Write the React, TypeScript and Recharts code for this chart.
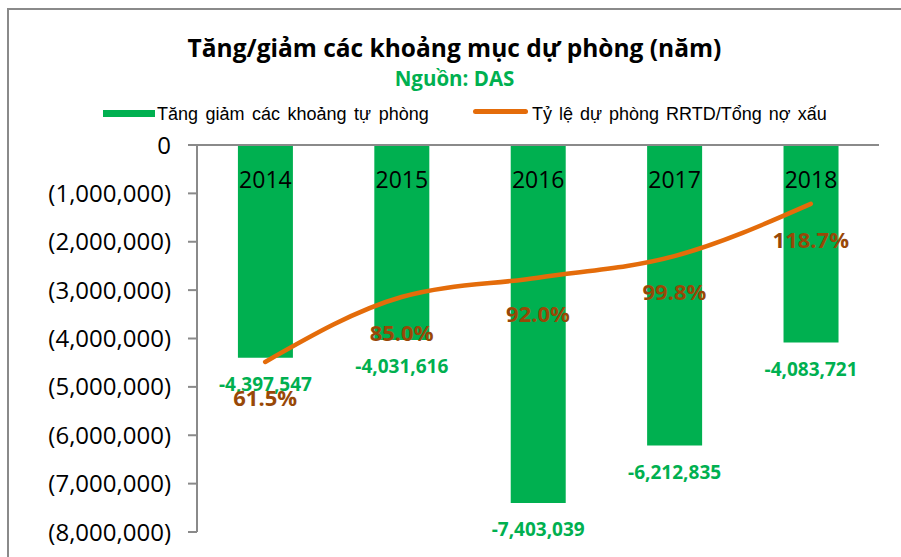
import { Bar, ComposedChart, LabelList, Line, XAxis, YAxis } from 'recharts'

const YEARS = ['2014', '2015', '2016', '2017', '2018']
const PROVISION_CHANGE = [-4397547, -4031616, -7403039, -6212835, -4083721]
const COVERAGE_RATIO = [61.5, 85.0, 92.0, 99.8, 118.7]
const LEFT_TICKS = [0, -1000000, -2000000, -3000000, -4000000, -5000000, -6000000, -7000000, -8000000]
const FRAME_TICKS = [0, 1, 2, 3, 4, 5]

const GREEN = '#00B050'
const ORANGE = '#E46C0A'
const BROWN = '#984807'
const AXIS = '#8a8a8a'
const CALIBRI = '"Open Sans", sans-serif'
const ARIAL = '"Liberation Sans", Arial, sans-serif'

const data = YEARS.map((year, i) => ({
  year,
  change: PROVISION_CHANGE[i],
  ratio: COVERAGE_RATIO[i],
}))

const fmtAxis = (v: number) =>
  v === 0 ? '0' : `(${Math.abs(v).toLocaleString('en-US')})`

function BarValueLabel(props: any) {
  const { x, y, width, height, value } = props
  const bottom = Math.max(y, y + height)
  return (
    <text
      x={x + width / 2}
      y={bottom + 26}
      textAnchor="middle"
      dominantBaseline="central"
      fill={GREEN}
      fontFamily={CALIBRI}
      fontWeight={700}
      fontSize={19}
    >
      {value.toLocaleString('en-US')}
    </text>
  )
}

// year sits just under the zero line, inside the bar
function YearLabel(props: any) {
  const { x, y, width, height, value } = props
  const top = Math.min(y, y + height)
  return (
    <text
      x={x + width / 2}
      y={top + 34}
      textAnchor="middle"
      dominantBaseline="central"
      fill="#000"
      fontFamily={CALIBRI}
      fontSize={23}
    >
      {value}
    </text>
  )
}

function RatioLabel(props: any) {
  const { x, y, value } = props
  return (
    <text
      x={x}
      y={y + 35}
      textAnchor="middle"
      dominantBaseline="central"
      fill={BROWN}
      fontFamily={CALIBRI}
      fontWeight={700}
      fontSize={22}
    >
      {value.toFixed(1)}%
    </text>
  )
}

export default function App() {
  return (
    <div
      style={{
        position: 'absolute',
        left: 0,
        top: 0,
        width: 901,
        height: 557,
        overflow: 'hidden',
        background: '#fff',
      }}
    >
      <div
        style={{
          position: 'absolute',
          left: 7,
          top: 8,
          width: 1000,
          height: 1000,
          borderTop: `2px solid ${AXIS}`,
          borderLeft: `2px solid ${AXIS}`,
        }}
      />
      <div
        style={{
          position: 'absolute',
          left: 8,
          right: 0,
          top: 35,
          textAlign: 'center',
          fontFamily: CALIBRI,
          fontWeight: 700,
          fontSize: 24.5,
          lineHeight: '26px',
          color: '#000',
        }}
      >
        Tăng/giảm các khoảng mục dự phòng (năm)
      </div>
      <div
        style={{
          position: 'absolute',
          left: 8,
          right: 0,
          top: 68,
          textAlign: 'center',
          fontFamily: CALIBRI,
          fontWeight: 700,
          fontSize: 20.5,
          lineHeight: '20px',
          color: GREEN,
        }}
      >
        Nguồn: DAS
      </div>
      <div style={{ position: 'absolute', left: 103, top: 110, width: 52, height: 7, background: GREEN }} />
      <div
        style={{
          position: 'absolute',
          left: 157,
          top: 105,
          fontFamily: ARIAL,
          fontSize: 18,
          lineHeight: '18px',
          wordSpacing: 2.5,
          whiteSpace: 'nowrap',
          color: '#000',
        }}
      >
        Tăng giảm các khoảng tự phòng
      </div>
      <div
        style={{
          position: 'absolute',
          left: 473,
          top: 109,
          width: 55,
          height: 5,
          borderRadius: 3,
          background: ORANGE,
        }}
      />
      <div
        style={{
          position: 'absolute',
          left: 532,
          top: 105,
          fontFamily: ARIAL,
          fontSize: 18,
          lineHeight: '18px',
          wordSpacing: 2,
          whiteSpace: 'nowrap',
          color: '#000',
        }}
      >
        Tỷ lệ dự phòng RRTD/Tổng nợ xấu
      </div>

      <div style={{ position: 'absolute', left: 0, top: 0 }}>
        <ComposedChart
          width={901}
          height={557}
          data={data}
          margin={{ top: 145, right: 22, bottom: 25, left: 0 }}
          barCategoryGap="30%"
        >
          <XAxis xAxisId="cat" dataKey="year" hide />
          <XAxis
            xAxisId="frame"
            type="number"
            domain={[0, 5]}
            ticks={FRAME_TICKS}
            allowDataOverflow
            orientation="top"
            mirror
            height={1}
            tick={false}
            tickSize={8}
            axisLine={{ stroke: AXIS, strokeWidth: 2 }}
            tickLine={{ stroke: AXIS, strokeWidth: 2 }}
          />
          <YAxis
            yAxisId="left"
            width={197}
            domain={[-8000000, 0]}
            ticks={LEFT_TICKS}
            tickFormatter={fmtAxis}
            tickSize={9}
            tickMargin={17}
            axisLine={{ stroke: AXIS, strokeWidth: 2 }}
            tickLine={{ stroke: AXIS, strokeWidth: 2 }}
            tick={{ fontSize: 24, fill: '#000', fontFamily: CALIBRI }}
          />
          <YAxis yAxisId="right" orientation="right" hide domain={[0, 140]} />
          <Bar
            xAxisId="cat"
            yAxisId="left"
            dataKey="change"
            fill={GREEN}
            isAnimationActive={false}
          >
            <LabelList dataKey="year" content={YearLabel} />
            <LabelList dataKey="change" content={BarValueLabel} />
          </Bar>
          <Line
            xAxisId="cat"
            yAxisId="right"
            type="monotone"
            dataKey="ratio"
            stroke={ORANGE}
            strokeWidth={4.5}
            strokeLinecap="round"
            dot={false}
            isAnimationActive={false}
          >
            <LabelList dataKey="ratio" content={RatioLabel} />
          </Line>
        </ComposedChart>
      </div>
    </div>
  )
}
